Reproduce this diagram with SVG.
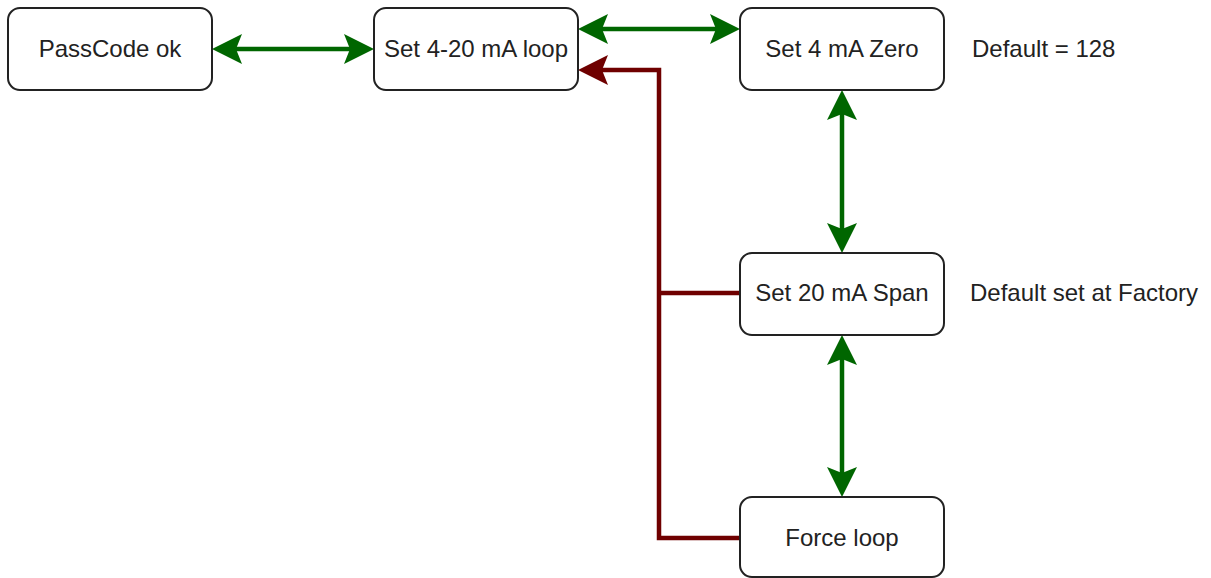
<svg xmlns="http://www.w3.org/2000/svg" width="1211" height="578" viewBox="0 0 1211 578">
<style>
.box{fill:#fff;stroke:#222;stroke-width:2}
.t{font-family:"Liberation Sans",Arial,sans-serif;font-size:24px;fill:#222}
.c{text-anchor:middle}
.g{fill:none;stroke:#006600;stroke-width:4.5}
.r{fill:none;stroke:#6f0000;stroke-width:4.5}
</style>
<defs>
<marker id="ag" viewBox="0 0 30 30" refX="8" refY="15" markerWidth="30" markerHeight="30" markerUnits="userSpaceOnUse" orient="auto-start-reverse">
<path d="M0,0 L30,15 L0,30 L6,15 Z" fill="#006600"/>
</marker>
<marker id="ar" viewBox="0 0 30 30" refX="8" refY="15" markerWidth="30" markerHeight="30" markerUnits="userSpaceOnUse" orient="auto-start-reverse">
<path d="M0,0 L30,15 L0,30 L6,15 Z" fill="#6f0000"/>
</marker>
</defs>
<g id="connectors">
<path class="g" d="M234,49 H352" marker-start="url(#ag)" marker-end="url(#ag)"/>
<path class="g" d="M600,29 H718" marker-start="url(#ag)" marker-end="url(#ag)"/>
<path class="g" d="M842,112 V231" marker-start="url(#ag)" marker-end="url(#ag)"/>
<path class="g" d="M842,357 V475" marker-start="url(#ag)" marker-end="url(#ag)"/>
<path class="r" d="M740,538 H659 V70 H600" marker-end="url(#ar)"/>
<path class="r" d="M740,293 H659"/>
</g>
<g id="passcode"><rect class="box" x="8" y="8" width="204" height="82" rx="12"/><text class="t c" x="110" y="57">PassCode ok</text></g>
<g id="loop"><rect class="box" x="374" y="8" width="204" height="82" rx="12"/><text class="t c" x="476" y="57">Set 4-20 mA loop</text></g>
<g id="zero"><rect class="box" x="740" y="8" width="204" height="82" rx="12"/><text class="t c" x="842" y="57">Set 4 mA Zero</text></g>
<g id="span"><rect class="box" x="740" y="253" width="204" height="82" rx="12"/><text class="t c" x="842" y="301">Set 20 mA Span</text></g>
<g id="force"><rect class="box" x="740" y="497" width="204" height="80" rx="12"/><text class="t c" x="842" y="546">Force loop</text></g>
<g id="note-zero"><text class="t" x="972" y="57">Default = 128</text></g>
<g id="note-span"><text class="t" x="970" y="301">Default set at Factory</text></g>
</svg>
